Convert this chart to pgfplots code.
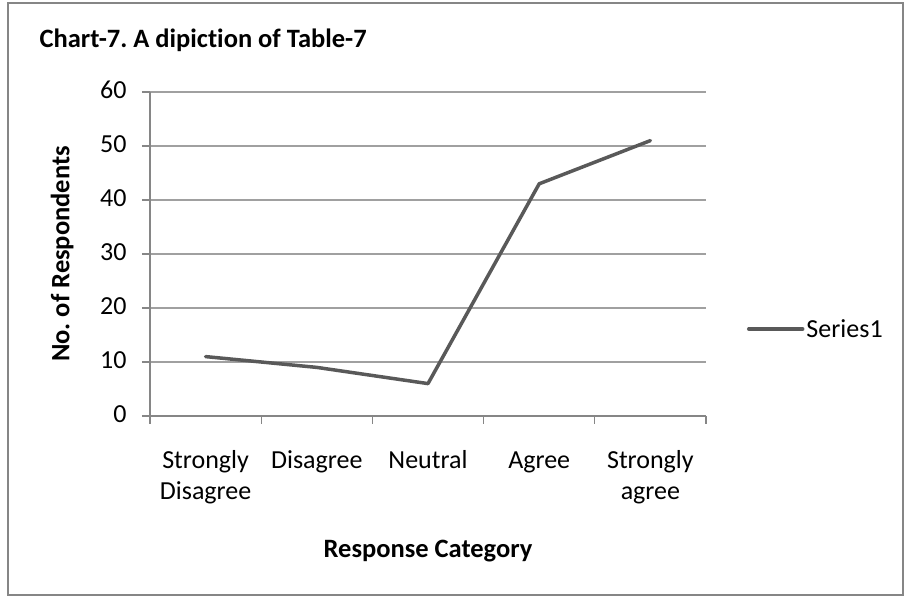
\documentclass[border=0pt]{standalone}
\usepackage{pgfplots}
\pgfplotsset{compat=1.18}
\usepackage{fontspec}
\setmainfont{Carlito}[Ligatures=NoCommon]

\definecolor{framegray}{RGB}{134,134,134}
\definecolor{gridgray}{RGB}{160,160,160}
\definecolor{seriesgray}{RGB}{89,89,89}

\newcommand{\tickfont}{\fontsize{26bp}{31bp}\selectfont}
\newcommand{\labelfont}{\bfseries\fontsize{26.5bp}{31bp}\selectfont}

\begin{document}
\frenchspacing
\begin{tikzpicture}
% page frame
\useasboundingbox (0bp,0bp) rectangle (911bp,597bp);
\draw[framegray, line width=1.5bp] (8bp,2bp) rectangle (903bp,594bp);

\begin{axis}[
  at={(150bp,181bp)}, anchor=south west,
  scale only axis, width=556bp, height=324bp,
  xmin=0.5, xmax=5.5, ymin=0, ymax=60,
  axis x line*=bottom, axis y line*=left,
  axis line style={framegray, line width=1.5bp},
  xtick={1,2,3,4,5},
  xticklabels={{Strongly\\Disagree},Disagree,Neutral,Agree,{Strongly\\agree}},
  typeset ticklabels with strut,
  major x tick style={draw=none},
  minor xtick={0.5,1.5,2.5,3.5,4.5,5.5},
  minor x tick style={framegray, line width=1.2bp},
  minor tick length=8bp,
  ytick={0,10,...,60},
  y tick style={framegray, line width=1.2bp},
  major tick length=8bp,
  tick align=outside,
  ymajorgrids,
  major grid style={gridgray, line width=1.2bp},
  /pgf/number format/assume math mode=true,
  tick label style={font=\tickfont, text=black},
  xticklabel style={align=center, anchor=north, yshift=-19bp},
  yticklabel style={anchor=east, xshift=-12bp},
  title={Chart-7. A dipiction of Table-7},
  title style={at={(axis description cs:-0.2050,1.1204)}, anchor=base west, font=\labelfont},
  xlabel={Response Category},
  xlabel style={at={(axis description cs:0.5,-0.416)}, anchor=center, font=\labelfont},
  ylabel={No. of Respondents},
  ylabel style={at={(axis description cs:-0.158,0.5)}, anchor=center, rotate=0, font=\labelfont},
  legend style={at={(axis description cs:1.0737,0.2685)}, anchor=west,
    draw=none, fill=none, inner sep=0pt, outer sep=0pt,
    font=\tickfont, nodes={inner sep=2bp}},
  legend image code/.code={\draw[#1] (0bp,0bp) -- (54bp,0bp);},
  clip=false,
]
\addplot[color=seriesgray, line width=3.5bp, line join=round, line cap=round]
  coordinates {(1,11) (2,9) (3,6) (4,43) (5,51)};
\addlegendentry{Series1}
\end{axis}
\end{tikzpicture}
\end{document}
